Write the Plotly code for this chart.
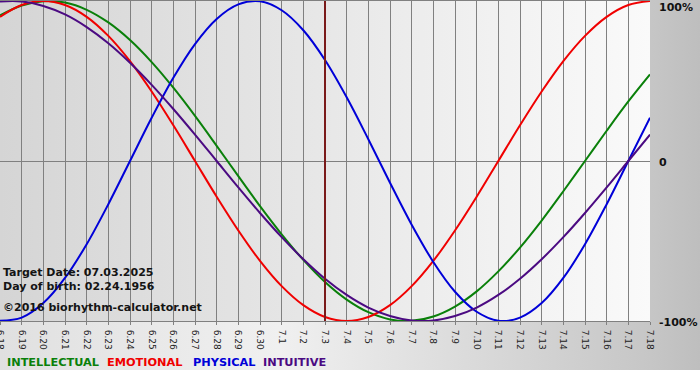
import plotly.graph_objects as go
import urllib.parse

# ---------------- data ----------------
day_labels = ["6.18", "6.19", "6.20", "6.21", "6.22", "6.23", "6.24", "6.25", "6.26",
              "6.27", "6.28", "6.29", "6.30", "7.1", "7.2", "7.3", "7.4", "7.5", "7.6",
              "7.7", "7.8", "7.9", "7.10", "7.11", "7.12", "7.13", "7.14", "7.15",
              "7.16", "7.17", "7.18"]

intellectual = [91.0, 97.2, 99.9, 99.0, 94.5, 86.6, 75.6, 61.8, 45.8, 28.2, 9.5,
                -9.5, -28.2, -45.8, -61.8, -75.6, -86.6, -94.5, -99.0, -99.9, -97.2,
                -91.0, -81.5, -69.0, -54.1, -37.2, -18.9, 0.0, 18.9, 37.2, 54.1]
emotional = [90.1, 97.5, 100.0, 97.5, 90.1, 78.2, 62.4, 43.4, 22.3, 0.0, -22.3,
             -43.4, -62.4, -78.2, -90.1, -97.5, -100.0, -97.5, -90.1, -78.2, -62.4,
             -43.4, -22.3, 0.0, 22.3, 43.4, 62.4, 78.2, 90.1, 97.5, 100.0]
physical = [-99.8, -97.9, -88.8, -73.1, -52.0, -27.0, 0.0, 27.0, 52.0, 73.1, 88.8,
            97.9, 99.8, 94.2, 81.7, 63.1, 39.8, 13.6, -13.6, -39.8, -63.1, -81.7,
            -94.2, -99.8, -97.9, -88.8, -73.1, -52.0, -27.0, 0.0, 27.0]
intuitive = [99.7, 99.7, 96.9, 91.6, 83.7, 73.6, 61.4, 47.6, 32.5, 16.5, 0.0,
             -16.5, -32.5, -47.6, -61.4, -73.6, -83.7, -91.6, -96.9, -99.7, -99.7,
             -96.9, -91.6, -83.7, -73.6, -61.4, -47.6, -32.5, -16.5, 0.0, 16.5]

series_names = ["INTELLECTUAL", "EMOTIONAL", "PHYSICAL", "INTUITIVE"]
series_values = [intellectual, emotional, physical, intuitive]
series_colors = ["#0a800a", "#f00000", "#0000d8", "#4b0a82"]

target_label = "7.3"
info_lines = ["Target Date: 07.03.2025", "Day of birth: 02.24.1956",
              "\u00a92016 biorhythm-calculator.net"]
right_labels = ["100%", "0", "-100%"]

# ---------------- geometry helpers (layout only) ----------------
W, H = 700, 380
ML, MR, MT, MB = 0, 50, 1, 59
PW, PH = W - ML - MR, H - MT - MB


def pxx(x):
    return (x - ML) / PW


def pxy(y):
    return (MT + PH - y) / PH


FONT = "DejaVu Sans"
xi = list(range(len(day_labels)))

fig = go.Figure()
for name, vals, col in zip(series_names, series_values, series_colors):
    fig.add_trace(go.Scatter(x=xi, y=vals, mode="lines", name=name,
                             line=dict(color=col, width=2, shape="spline", smoothing=1),
                             hoverinfo="skip"))

# target date line
ti = day_labels.index(target_label)
fig.add_shape(type="line", xref="x", yref="paper", x0=ti, x1=ti, y0=0, y1=1,
              line=dict(color="#7a1a1a", width=2), layer="above")

# background gradients via inline svg
svg = (
    "<svg xmlns='http://www.w3.org/2000/svg' width='700' height='380'>"
    "<defs>"
    "<linearGradient id='g' x1='0' x2='1' y1='0' y2='0'>"
    "<stop offset='0' stop-color='#e0e0e0'/>"
    "<stop offset='0.4' stop-color='#f0f0f0'/>"
    "<stop offset='0.93' stop-color='#c6c6c6'/>"
    "<stop offset='1' stop-color='#bebebe'/>"
    "</linearGradient>"
    "<linearGradient id='p' x1='0' x2='1' y1='0' y2='0'>"
    "<stop offset='0' stop-color='#d5d5d5'/>"
    "<stop offset='1' stop-color='#fafafa'/>"
    "</linearGradient>"
    "</defs>"
    "<rect x='0' y='0' width='700' height='370' fill='url(#g)'/>"
    "<rect x='0' y='1' width='650' height='320' fill='url(#p)'/>"
    "</svg>"
)
src = "data:image/svg+xml;charset=utf-8," + urllib.parse.quote(svg)
fig.add_layout_image(dict(source=src, xref="paper", yref="paper",
                          x=pxx(0), y=pxy(0), sizex=W / PW, sizey=H / PH,
                          xanchor="left", yanchor="top", sizing="stretch",
                          layer="below", opacity=1))

annos = []
# info text
for txt, cy in zip(info_lines, [272, 286, 307]):
    annos.append(dict(text=txt, xref="paper", yref="paper", x=pxx(1), y=pxy(cy),
                      xanchor="left", yanchor="middle", showarrow=False,
                      font=dict(family=FONT, size=11, color="#141414", weight="bold")))
# right labels
for txt, cy in zip(right_labels, [7, 162.5, 322]):
    annos.append(dict(text=txt, xref="paper", yref="paper", x=pxx(657), y=pxy(cy),
                      xanchor="left", yanchor="middle", showarrow=False,
                      font=dict(family=FONT, size=11, color="#111111", weight="bold")))
# legend words
for txt, col, lx in zip(series_names, series_colors, [5, 105, 191, 261]):
    annos.append(dict(text=txt, xref="paper", yref="paper", x=pxx(lx), y=pxy(362),
                      xanchor="left", yanchor="middle", showarrow=False,
                      font=dict(family=FONT, size=11.3, color=col, weight="bold")))

fig.update_layout(
    width=W, height=H,
    margin=dict(l=ML, r=MR, t=MT, b=MB, pad=0, autoexpand=False),
    paper_bgcolor="rgba(0,0,0,0)", plot_bgcolor="rgba(0,0,0,0)",
    showlegend=False,
    annotations=annos,
    xaxis=dict(range=[0, len(day_labels) - 1], tickmode="array", tickvals=xi,
               ticktext=day_labels, tickangle=90, ticks="outside", ticklen=3,
               tickcolor="#808080", tickfont=dict(family=FONT, size=9, color="#222222"),
               ticklabelstandoff=3, ticklabeloverflow="allow",
               showgrid=True, gridcolor="#808080", gridwidth=1, zeroline=False,
               showline=True, linecolor="#808080", linewidth=1, mirror=True,
               fixedrange=True, automargin=False),
    yaxis=dict(range=[-100, 100], tickmode="array", tickvals=[-100, 0, 100],
               showticklabels=False, ticks="", showgrid=True, gridcolor="#808080",
               gridwidth=1, zeroline=True, zerolinecolor="#808080", zerolinewidth=1,
               showline=False, fixedrange=True, automargin=False),
)
fig.write_html("out.html", config={"displayModeBar": False},
               post_script="document.body.style.margin='0';")
